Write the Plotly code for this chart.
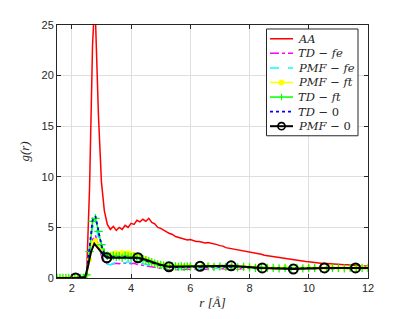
import plotly.graph_objects as go

# ---------------- data ----------------
r_aa = [1.5, 1.6, 1.7, 1.8, 1.9, 2.0, 2.1, 2.2, 2.3, 2.4,
        2.5, 2.6, 2.7, 2.75, 2.8, 2.9, 3.0, 3.1, 3.2, 3.3, 3.4,
        3.5, 3.6, 3.7, 3.8, 3.9, 4.0, 4.1, 4.2, 4.3, 4.4,
        4.5, 4.6, 4.7, 4.8, 4.9, 5.0, 5.1, 5.2, 5.3, 5.4,
        5.5, 5.6, 5.7, 5.8, 5.9, 6.0, 6.1, 6.2, 6.3, 6.4,
        6.5, 6.6, 6.7, 6.8, 6.9, 7.0, 7.1, 7.2, 7.3, 7.4,
        7.5, 7.6, 7.7, 7.8, 7.9, 8.0, 8.1, 8.2, 8.3, 8.4,
        8.5, 8.6, 8.7, 8.8, 8.9, 9.0, 9.1, 9.2, 9.3, 9.4,
        9.5, 9.6, 9.7, 9.8, 9.9, 10.0, 10.1, 10.2, 10.3, 10.4,
        10.5, 10.6, 10.7, 10.8, 10.9, 11.0, 11.1, 11.2, 11.3, 11.4,
        11.5, 11.6, 11.7, 11.8, 11.9, 12.0]
g_aa = [0, 0, 0, 0, 0, 0, 0, 0, 0, 0,
        0.3, 9.0, 23.0, 26.0, 25.5, 16.0, 9.5, 6.6, 5.3, 4.8, 5.1,
        4.7, 5.0, 4.8, 5.2, 5.0, 5.4, 5.3, 5.7, 5.55, 5.8,
        5.6, 5.9, 5.5, 5.35, 5.0, 4.9, 4.7, 4.55, 4.4, 4.3,
        4.1, 4.0, 3.9, 3.85, 3.75, 3.8, 3.7, 3.6, 3.6, 3.5,
        3.45, 3.5, 3.45, 3.35, 3.3, 3.2, 3.15, 3.0, 2.95, 2.9,
        2.85, 2.8, 2.72, 2.68, 2.6, 2.55, 2.5, 2.45, 2.4, 2.35,
        2.25, 2.2, 2.15, 2.1, 2.05, 2.0, 1.95, 1.9, 1.87, 1.8,
        1.75, 1.72, 1.7, 1.65, 1.62, 1.6, 1.55, 1.52, 1.5, 1.45,
        1.45, 1.42, 1.4, 1.37, 1.35, 1.35, 1.32, 1.3, 1.3, 1.26,
        1.25, 1.22, 1.2, 1.2, 1.17, 1.15]

r_fine = [1.5, 1.6, 1.7, 1.8, 1.9, 2.0, 2.1, 2.2, 2.3, 2.4,
          2.5, 2.6, 2.7, 2.8, 2.9, 3.0, 3.1, 3.2, 3.3, 3.4,
          3.5, 3.6, 3.7, 3.8, 3.9, 4.0, 4.1, 4.2, 4.3, 4.4,
          4.5, 4.6, 4.7, 4.8, 4.9, 5.0, 5.1, 5.2, 5.3, 5.4,
          5.5, 5.6, 5.7, 5.8, 5.9, 6.0,
          6.2, 6.4, 6.6, 6.8, 7.0, 7.2, 7.4, 7.6, 7.8, 8.0,
          8.2, 8.4, 8.6, 8.8, 9.0, 9.2, 9.4, 9.6, 9.8, 10.0,
          10.2, 10.4, 10.6, 10.8, 11.0, 11.2, 11.4, 11.6, 11.8, 12.0]

g_td_fe = [0, 0, 0, 0, 0, 0, 0, 0, 0, 0,
           0.2, 1.8, 3.8, 4.2, 3.3, 2.2, 1.6, 1.4, 1.35, 1.4,
           1.45, 1.4, 1.5, 1.45, 1.5, 1.4, 1.45, 1.35, 1.3, 1.25,
           1.2, 1.15, 1.05, 1.0, 0.95, 0.9, 0.85, 0.85, 0.8, 0.85,
           0.8, 0.85, 0.8, 0.85, 0.9, 0.85,
           0.9, 0.85, 0.9, 0.9, 0.95, 0.9, 0.95, 0.9, 0.95, 0.95,
           0.9, 0.95, 0.95, 0.9, 0.95, 0.95, 0.9, 0.95, 0.95, 0.95,
           0.95, 0.95, 0.95, 0.95, 0.95, 0.95, 0.95, 0.95, 0.95, 0.95]

g_pmf_fe = [0, 0, 0, 0, 0, 0, 0, 0, 0, 0,
            0.3, 2.4, 5.0, 5.4, 4.0, 2.5, 1.7, 1.4, 1.3, 1.45,
            1.5, 1.4, 1.55, 1.5, 1.6, 1.5, 1.55, 1.5, 1.45, 1.4,
            1.35, 1.3, 1.25, 1.2, 1.1, 1.05, 1.0, 1.0, 0.95, 0.95,
            0.95, 1.0, 0.95, 0.95, 1.0, 0.95,
            1.0, 0.95, 1.0, 1.0, 0.95, 1.0, 1.0, 0.95, 1.0, 1.0,
            0.95, 1.0, 1.0, 0.95, 1.0, 1.0, 0.95, 1.0, 1.0, 0.95,
            1.0, 1.0, 0.95, 1.0, 1.0, 1.0, 0.95, 1.0, 1.0, 1.0]

g_pmf_ft = [0, 0, 0, 0, 0, 0, 0, 0, 0, 0,
            0.3, 1.8, 3.4, 3.7, 3.2, 2.7, 2.4, 2.3, 2.35, 2.4,
            2.5, 2.4, 2.55, 2.45, 2.5, 2.4, 2.35, 2.25, 2.1, 2.0,
            1.85, 1.7, 1.55, 1.45, 1.35, 1.3, 1.25, 1.2, 1.2, 1.15,
            1.15, 1.2, 1.15, 1.15, 1.2, 1.15,
            1.15, 1.15, 1.2, 1.15, 1.15, 1.1, 1.15, 1.1, 1.1, 1.05,
            1.05, 1.0, 1.05, 1.0, 1.0, 1.05, 1.0, 1.0, 1.0, 1.05,
            1.0, 1.0, 1.0, 1.05, 1.0, 1.0, 1.0, 1.0, 1.05, 1.0]

g_td_ft = [0, 0, 0, 0, 0, 0, 0, 0, 0, 0,
           0.3, 2.6, 5.6, 5.9, 4.6, 3.3, 2.5, 2.2, 2.1, 2.2,
           2.1, 2.15, 2.0, 2.2, 2.1, 2.05, 2.1, 2.0, 1.95, 1.85,
           1.75, 1.65, 1.55, 1.45, 1.35, 1.3, 1.25, 1.2, 1.15, 1.15,
           1.15, 1.1, 1.15, 1.1, 1.15, 1.15,
           1.15, 1.1, 1.15, 1.1, 1.15, 1.1, 1.1, 1.05, 1.1, 1.05,
           1.0, 1.05, 1.0, 1.0, 0.95, 1.0, 1.0, 1.0, 0.95, 1.0,
           1.0, 0.95, 1.0, 1.0, 1.0, 0.95, 1.0, 1.0, 1.0, 1.0]

g_td_0 = [0, 0, 0, 0, 0, 0, 0, 0, 0, 0,
          0.4, 2.8, 5.7, 6.1, 4.8, 3.2, 2.4, 2.1, 2.0, 2.1,
          2.0, 2.05, 1.95, 2.1, 2.0, 1.95, 2.0, 1.9, 1.85, 1.8,
          1.7, 1.6, 1.5, 1.4, 1.3, 1.25, 1.2, 1.15, 1.1, 1.1,
          1.1, 1.05, 1.1, 1.1, 1.15, 1.1,
          1.1, 1.15, 1.1, 1.15, 1.1, 1.15, 1.1, 1.1, 1.05, 1.05,
          1.0, 0.95, 1.0, 0.95, 1.0, 0.95, 1.0, 0.95, 1.0, 1.0,
          0.95, 1.0, 1.0, 0.95, 1.0, 1.0, 0.95, 1.0, 1.0, 1.0]

r_pmf_0 = [1.5, 2.13, 2.45, 2.55, 2.65, 2.76, 2.87, 2.97, 3.07, 3.18,
           3.5, 3.8, 4.0, 4.23, 4.5, 4.8, 5.0, 5.28, 6.33, 7.38,
           8.43, 9.48, 10.53, 11.58, 12.0]
g_pmf_0 = [0, 0, 0.1, 1.2, 2.6, 3.4, 3.0, 2.6, 2.3, 2.0,
           2.0, 2.0, 2.0, 2.0, 1.8, 1.5, 1.3, 1.1, 1.15, 1.2,
           1.0, 0.88, 1.0, 1.0, 1.0]
pmf_0_marker_idx = [1, 9, 13, 17, 18, 19, 20, 21, 22, 23]

names = ["AA", "TD − fe", "PMF − fe", "PMF − ft", "TD − ft", "TD − 0", "PMF − 0"]
legend_html = ["<i>AA</i>", "<i>TD</i> − <i>fe</i>", "<i>PMF</i> − <i>fe</i>",
               "<i>PMF</i> − <i>ft</i>", "<i>TD</i> − <i>ft</i>", "<i>TD</i> − 0",
               "<i>PMF</i> − 0"]
x_ticks = [2, 4, 6, 8, 10, 12]
y_ticks = [0, 5, 10, 15, 20, 25]

# ---------------- styles ----------------
C_AA, C_TDFE, C_PMFFE, C_PMFFT, C_TDFT, C_TD0, C_PMF0 = (
    "#ff0000", "#ff00ff", "#00ffff", "#ffff00", "#00ff00", "#0000ff", "#000000")

# figure geometry (the page adds an 8px body margin)
W, H = 391, 303
ML, MR, MT, MB = 49, 31, 17, 32.5
PW, PH = W - ML - MR, H - MT - MB

fig = go.Figure()
fig.add_trace(go.Scatter(x=r_aa, y=g_aa, mode="lines", name=names[0],
                         line=dict(color=C_AA, width=1.5)))
fig.add_trace(go.Scatter(x=r_fine, y=g_td_fe, mode="lines", name=names[1],
                         line=dict(color=C_TDFE, width=1.5, dash="dashdot")))
fig.add_trace(go.Scatter(x=r_fine, y=g_pmf_fe, mode="lines", name=names[2],
                         line=dict(color=C_PMFFE, width=1.5, dash="dash")))
fig.add_trace(go.Scatter(x=r_fine, y=g_pmf_ft, mode="lines+markers", name=names[3],
                         line=dict(color=C_PMFFT, width=1.5),
                         marker=dict(symbol="circle", size=5, color=C_PMFFT)))
fig.add_trace(go.Scatter(x=r_fine, y=g_td_ft, mode="lines+markers", name=names[4],
                         line=dict(color=C_TDFT, width=1.5),
                         marker=dict(symbol="cross-thin", size=6,
                                     line=dict(color=C_TDFT, width=1.2))))
fig.add_trace(go.Scatter(x=r_fine, y=g_td_0, mode="lines", name=names[5],
                         line=dict(color=C_TD0, width=1.8, dash="dot")))
fig.add_trace(go.Scatter(x=r_pmf_0, y=g_pmf_0, mode="lines", name=names[6],
                         line=dict(color=C_PMF0, width=2)))
fig.add_trace(go.Scatter(x=[r_pmf_0[i] for i in pmf_0_marker_idx],
                         y=[g_pmf_0[i] for i in pmf_0_marker_idx],
                         mode="markers", name=names[6],
                         marker=dict(symbol="circle-open", size=9, color=C_PMF0,
                                     line=dict(width=2))))

# ---------------- legend (drawn as layout decoration) ----------------
def px(x_page):
    return (x_page - 8 - ML) / PW


def py(y_page):
    return (MT + PH - (y_page - 8)) / PH


shapes = []
annotations = []
LEG_X0, LEG_X1, LEG_Y0, LEG_Y1 = 266.5, 358, 29, 136
shapes.append(dict(type="rect", xref="paper", yref="paper",
                   x0=px(LEG_X0), x1=px(LEG_X1), y0=py(LEG_Y1), y1=py(LEG_Y0),
                   fillcolor="white", line=dict(color="#262626", width=1), layer="above"))
leg_styles = [
    (C_AA, "solid", 1.5, None),
    (C_TDFE, "dashdot", 1.5, None),
    (C_PMFFE, "dash", 1.5, None),
    (C_PMFFT, "solid", 1.5, "dot"),
    (C_TDFT, "solid", 1.5, "plus"),
    (C_TD0, "dot", 1.8, None),
    (C_PMF0, "solid", 2, "ocircle"),
]
ROW0, ROWSTEP = 38.8, 14.6
SX0, SX1, TX = 270, 293, 296.5
for k, (col, dash, lw, mk) in enumerate(leg_styles):
    yk = ROW0 + ROWSTEP * k
    shapes.append(dict(type="line", xref="paper", yref="paper",
                       x0=px(SX0), x1=px(SX1), y0=py(yk), y1=py(yk),
                       line=dict(color=col, width=lw, dash=dash), layer="above"))
    cx = (SX0 + SX1) / 2
    if mk == "dot":
        r = 2.8
        shapes.append(dict(type="circle", xref="paper", yref="paper",
                           x0=px(cx - r), x1=px(cx + r), y0=py(yk + r), y1=py(yk - r),
                           fillcolor=col, line=dict(color=col, width=0.5), layer="above"))
    elif mk == "ocircle":
        r = 3.6
        shapes.append(dict(type="circle", xref="paper", yref="paper",
                           x0=px(cx - r), x1=px(cx + r), y0=py(yk + r), y1=py(yk - r),
                           fillcolor="rgba(0,0,0,0)", line=dict(color=col, width=1.6),
                           layer="above"))
    elif mk == "plus":
        r = 3.2
        shapes.append(dict(type="line", xref="paper", yref="paper",
                           x0=px(cx), x1=px(cx), y0=py(yk + r), y1=py(yk - r),
                           line=dict(color=col, width=1.2), layer="above"))
    annotations.append(dict(xref="paper", yref="paper", x=px(TX), y=py(yk),
                            xanchor="left", yanchor="middle", showarrow=False,
                            text=legend_html[k], borderpad=0,
                            font=dict(family="DejaVu Serif, serif", size=11.5,
                                      color="#262626")))

axis_common = dict(showline=True, linecolor="#262626", linewidth=1, mirror="allticks",
                   ticks="inside", ticklen=4, tickcolor="#262626", tickwidth=1,
                   showgrid=True, gridcolor="#dfdfdf", gridwidth=1, zeroline=False,
                   automargin=False,
                   tickfont=dict(family="Liberation Sans, Arial, sans-serif", size=11,
                                 color="#262626"))

fig.update_xaxes(range=[1.5, 12], tickvals=x_ticks, ticktext=[str(v) for v in x_ticks],
                 title=dict(text="<i>r</i> <i>[Å]</i>", standoff=4,
                            font=dict(family="Liberation Serif, serif", size=13,
                                      color="#262626")),
                 **axis_common)
fig.update_yaxes(range=[0, 25], tickvals=y_ticks, ticktext=[str(v) for v in y_ticks],
                 title=dict(text="<i>g(r)</i>", standoff=8,
                            font=dict(family="Liberation Serif, serif", size=13,
                                      color="#262626")),
                 **axis_common)

fig.update_layout(
    width=W, height=H,
    margin=dict(l=ML, r=MR, t=MT, b=MB, pad=0),
    paper_bgcolor="white", plot_bgcolor="white",
    showlegend=False,
    shapes=shapes, annotations=annotations,
)

fig.write_html("out.html")
